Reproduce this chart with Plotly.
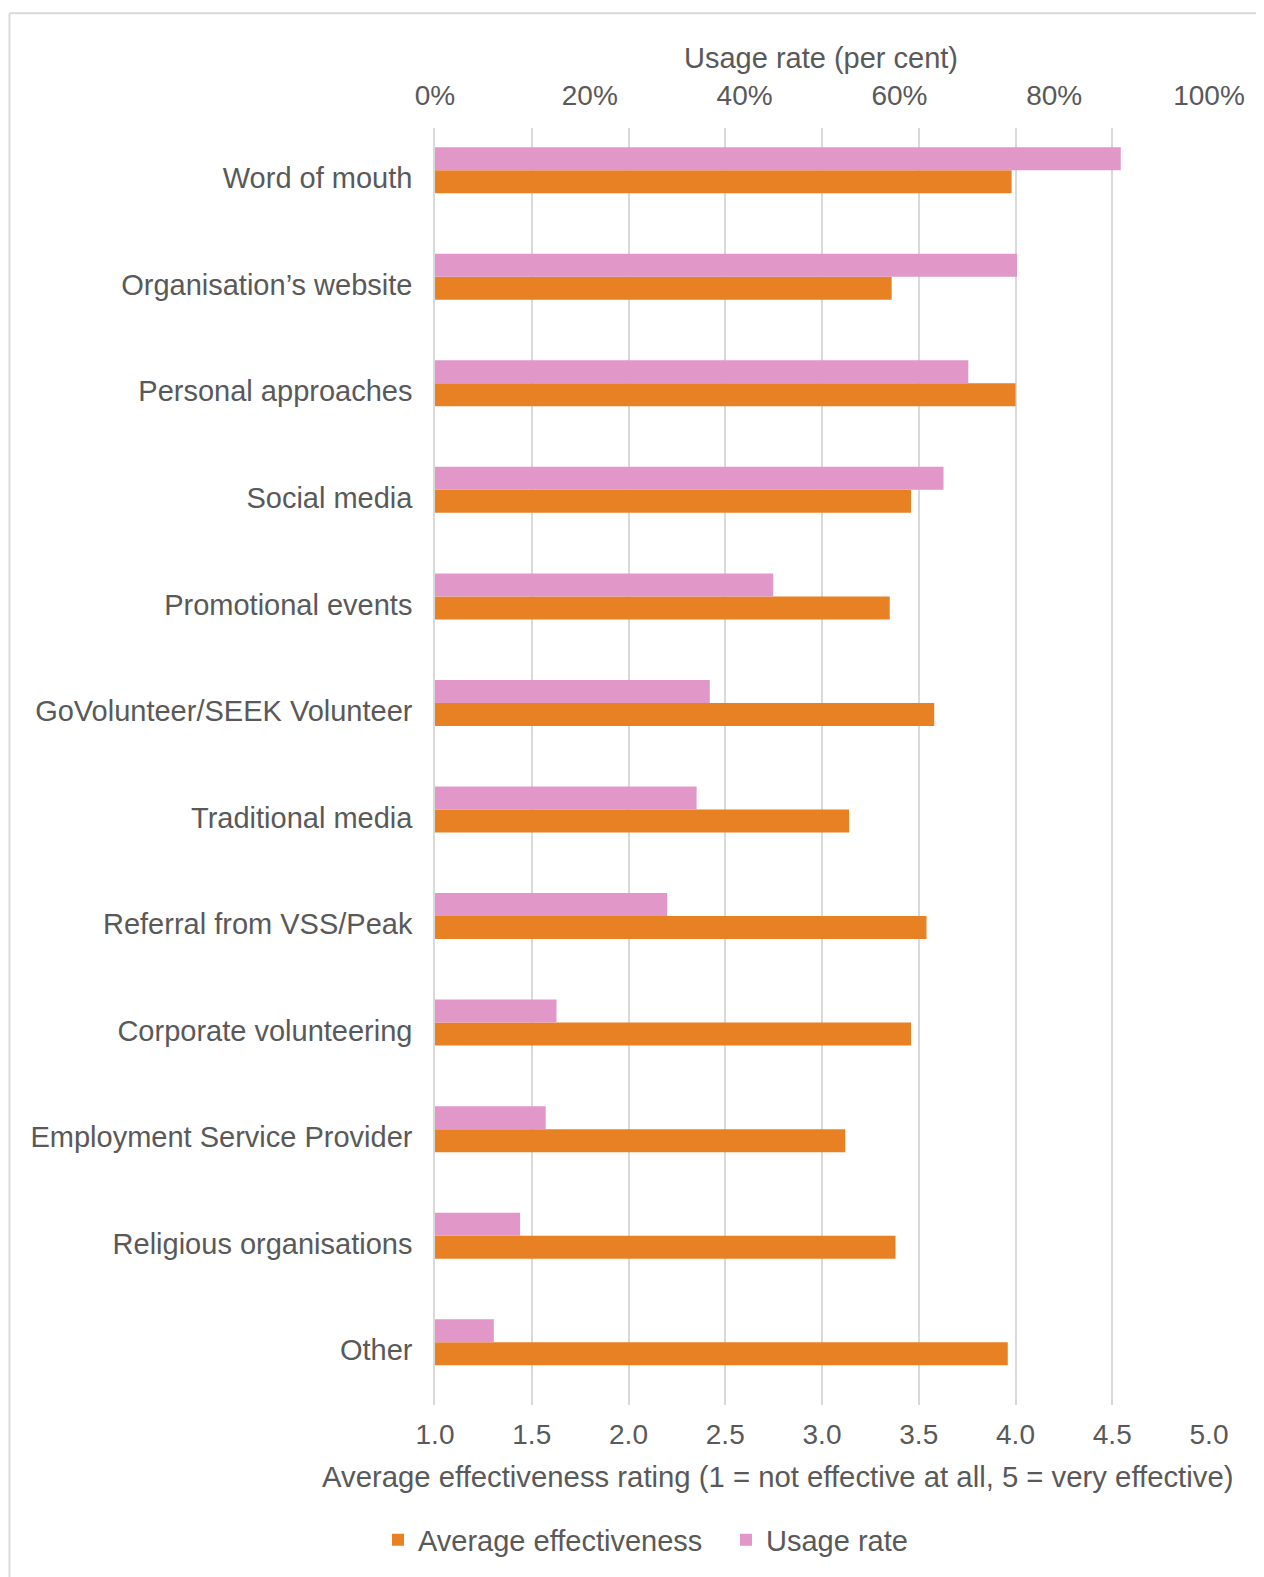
import plotly.graph_objects as go

categories = [
    "Word of mouth",
    "Organisation’s website",
    "Personal approaches",
    "Social media",
    "Promotional events",
    "GoVolunteer/SEEK Volunteer",
    "Traditional media",
    "Referral from VSS/Peak",
    "Corporate volunteering",
    "Employment Service Provider",
    "Religious organisations",
    "Other",
]
effectiveness = [3.98, 3.36, 4.00, 3.46, 3.35, 3.58, 3.14, 3.54, 3.46, 3.12, 3.38, 3.96]
usage = [88.6, 75.2, 68.9, 65.7, 43.7, 35.5, 33.8, 30.0, 15.7, 14.3, 11.0, 7.6]

rating_ticks = [1.0, 1.5, 2.0, 2.5, 3.0, 3.5, 4.0, 4.5, 5.0]
usage_ticks = [0, 20, 40, 60, 80, 100]
usage_tick_labels = ["0%", "20%", "40%", "60%", "80%", "100%"]

ORANGE = "#E88024"
PINK = "#E197C8"
TEXT = "#595959"
GRID = "#D9D9D9"
FONT = "Liberation Sans, Arial, Helvetica, sans-serif"

OFF = 8  # default body margin of the html page
PAGE_W, PAGE_H = 1264, 1577
W, H = PAGE_W - OFF, PAGE_H - OFF
# target page-pixel positions of plot area
P_LEFT, P_RIGHT, P_TOP, P_BOTTOM = 435, 1209, 128, 1407
L = P_LEFT - OFF
T = P_TOP - OFF
R = W - (P_RIGHT - OFF)
B = H - (P_BOTTOM - OFF)
plot_w = W - L - R
plot_h = H - T - B

def px_x(px):
    return (px - P_LEFT) / plot_w

def px_y(py):
    return (P_BOTTOM - py) / plot_h

BW = 0.216

fig = go.Figure()
fig.add_trace(go.Bar(
    y=categories, x=usage, orientation="h", name="Usage rate",
    xaxis="x2", yaxis="y", marker=dict(color=PINK, line=dict(width=0)),
    width=BW, offset=-BW, legendrank=2,
))
fig.add_trace(go.Bar(
    y=categories, x=effectiveness, orientation="h", name="Average effectiveness",
    xaxis="x", yaxis="y", marker=dict(color=ORANGE, line=dict(width=0)),
    width=BW, offset=0, legendrank=1,
))

fig.update_layout(
    width=W, height=H,
    margin=dict(l=L, r=R, t=T, b=B, pad=0),
    paper_bgcolor="white", plot_bgcolor="white",
    font=dict(family=FONT, size=29, color=TEXT),
    barmode="group",
    xaxis=dict(
        range=[1, 5], tickvals=rating_ticks, tickformat=".1f",
        showgrid=True, gridcolor=GRID, gridwidth=1.5,
        zeroline=False, showline=False, ticks="",
        tickfont=dict(size=28, color=TEXT), ticklabelstandoff=10,
        fixedrange=True,
    ),
    xaxis2=dict(
        range=[0, 100], tickmode="array", tickvals=usage_ticks,
        ticktext=usage_tick_labels,
        overlaying="x", side="top", showgrid=False, zeroline=False,
        showline=False, ticks="",
        tickfont=dict(size=28, color=TEXT), ticklabelstandoff=16,
    ),
    yaxis=dict(
        type="category", categoryarray=categories,
        range=[11.589, -0.396],
        showgrid=False, zeroline=False, showline=True,
        linecolor=GRID, linewidth=1.5, ticks="",
        tickfont=dict(size=29, color=TEXT), ticklabelstandoff=15,
        ticklabelshift=-8,
    ),
    legend=dict(
        orientation="h", x=px_x(378), xanchor="left",
        y=px_y(1542), yanchor="middle", entrywidth=303,
        font=dict(size=29, color=TEXT), traceorder="normal",
        bgcolor="rgba(0,0,0,0)",
    ),
    showlegend=True,
    annotations=[
        dict(text="Usage rate (per cent)", xref="paper", yref="paper",
             x=px_x(821), y=px_y(58), xanchor="center", yanchor="middle",
             showarrow=False, font=dict(size=29, color=TEXT)),
        dict(text="Average effectiveness rating (1 = not effective at all, 5 = very effective)",
             xref="paper", yref="paper",
             x=px_x(777), y=px_y(1479), xanchor="center", yanchor="middle",
             showarrow=False, font=dict(size=29.3, color=TEXT)),
    ],
    shapes=[
        dict(type="line", xref="paper", yref="paper",
             x0=px_x(9.5), x1=px_x(9.5), y0=px_y(13), y1=px_y(1700),
             line=dict(color=GRID, width=2)),
        dict(type="line", xref="paper", yref="paper",
             x0=px_x(9.5), x1=px_x(1400), y0=px_y(13), y1=px_y(13),
             line=dict(color=GRID, width=2)),
    ],
)

fig.write_html("out.html")
